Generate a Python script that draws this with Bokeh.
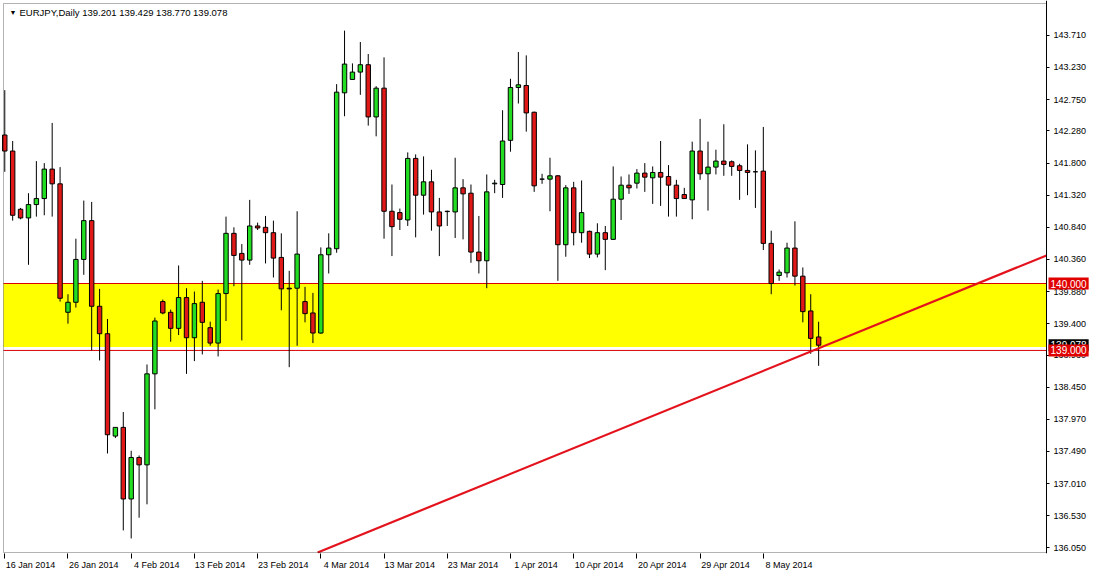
import numpy as np
from bokeh.plotting import figure
from bokeh.models import (Range1d, FixedTicker, PrintfTickFormatter, BoxAnnotation,
                          Label, ColumnDataSource, LinearAxis)
from bokeh.embed import file_html
from bokeh.resources import INLINE

symbol = "EURJPY"
timeframe = "Daily"

opens = [142.22, 141.98, 141.11, 140.98, 141.18, 141.27, 141.71, 141.49, 139.57, 139.72,
         140.36, 140.94, 139.66, 139.25, 137.72, 137.85, 136.78, 137.40, 137.29, 138.65,
         139.73, 139.57, 139.33, 139.79, 139.19, 139.72, 139.34, 139.11, 139.85, 140.75,
         140.45, 140.35, 140.86, 140.84, 140.76, 140.39, 139.93, 139.93, 139.73, 139.56,
         139.26, 140.43, 140.52, 142.85, 143.05, 143.16, 143.27, 142.49, 142.92, 141.08,
         141.06, 140.95, 141.87, 141.32, 141.52, 141.07, 141.08, 141.07, 141.43, 141.35,
         140.47, 140.34, 141.49, 141.48, 142.14, 142.93, 142.96, 142.56, 141.56, 141.56,
         141.61, 140.58, 141.43, 140.76, 140.78, 140.44, 140.76, 140.66, 141.26, 141.47,
         141.50, 141.65, 141.58, 141.66, 141.60, 141.47, 141.33, 141.25, 141.98, 141.64,
         141.74, 141.83, 141.82, 141.76, 141.69, 141.67, 141.68, 140.60, 140.12, 140.16,
         140.53, 140.11, 139.59, 139.201]
highs = [142.89, 142.13, 141.13, 141.35, 141.83, 141.80, 142.40, 141.74, 139.84, 140.67,
         141.24, 141.22, 139.92, 139.47, 137.85, 138.08, 137.50, 137.43, 138.79, 139.49,
         139.76, 139.61, 140.27, 139.93, 139.88, 140.04, 139.43, 139.91, 141.00, 140.84,
         140.59, 141.25, 140.91, 141.01, 140.94, 140.75, 140.19, 141.08, 139.95, 139.86,
         140.54, 140.75, 142.98, 143.78, 143.29, 143.61, 143.43, 142.95, 143.38, 141.48,
         141.12, 141.96, 141.93, 141.90, 141.70, 141.28, 141.09, 141.88, 141.56, 141.48,
         141.01, 141.63, 141.55, 142.59, 143.06, 143.46, 143.41, 142.57, 141.64, 141.88,
         141.62, 141.47, 141.52, 141.54, 140.79, 140.90, 140.86, 141.75, 141.60, 141.63,
         141.71, 141.80, 141.75, 142.13, 141.77, 141.55, 141.43, 142.12, 142.46, 142.12,
         142.00, 142.38, 141.84, 141.79, 142.08, 141.99, 142.34, 140.79, 140.21, 140.61,
         140.93, 140.24, 139.84, 139.429]
lows = [141.67, 140.94, 140.96, 140.28, 141.00, 141.02, 141.00, 139.73, 139.40, 139.64,
        140.13, 139.00, 138.85, 137.46, 137.69, 136.31, 136.19, 136.50, 136.70, 138.12,
        139.54, 139.13, 139.23, 138.65, 138.84, 138.94, 139.07, 138.91, 139.44, 139.96,
        139.15, 140.28, 140.80, 140.30, 140.09, 139.60, 138.75, 139.07, 139.42, 139.11,
        139.25, 140.15, 140.46, 142.50, 143.05, 142.82, 142.36, 142.20, 140.67, 140.41,
        140.80, 140.86, 140.69, 141.03, 140.79, 140.41, 140.86, 140.68, 140.66, 140.31,
        140.15, 139.93, 141.35, 141.28, 141.97, 142.69, 142.27, 141.37, 141.49, 141.08,
        140.04, 140.40, 140.57, 140.61, 140.38, 140.39, 140.20, 140.65, 140.95, 141.34,
        141.42, 141.37, 141.19, 141.16, 141.00, 141.00, 141.27, 140.96, 141.55, 141.09,
        141.63, 141.61, 141.61, 141.25, 141.32, 141.13, 140.50, 139.84, 140.04, 140.09,
        139.97, 139.42, 138.95, 138.770]
closes = [141.98, 141.02, 140.98, 141.18, 141.27, 141.71, 141.49, 139.78, 139.72, 140.36,
          140.94, 139.66, 139.25, 137.74, 137.85, 136.78, 137.40, 137.29, 138.65, 139.44,
          139.56, 139.33, 139.79, 139.19, 139.70, 139.42, 139.11, 139.85, 140.75, 140.42,
          140.35, 140.86, 140.83, 140.76, 140.38, 139.92, 139.92, 140.44, 139.55, 139.26,
          140.43, 140.53, 142.86, 143.28, 143.16, 143.27, 142.49, 142.92, 141.08, 140.85,
          140.96, 141.87, 141.32, 141.52, 141.07, 140.86, 141.075, 141.43, 141.34, 140.47,
          140.34, 141.37, 141.50, 142.13, 142.93, 142.97, 142.55, 141.46, 141.56, 141.61,
          140.58, 141.43, 140.76, 141.06, 140.44, 140.76, 140.66, 141.26, 141.47, 141.43,
          141.65, 141.59, 141.66, 141.59, 141.47, 141.27, 141.27, 141.98, 141.64, 141.74,
          141.83, 141.78, 141.75, 141.69, 141.66, 141.67, 140.60, 140.00, 140.17, 140.53,
          140.11, 139.58, 139.18, 139.078]

date_labels = ["16 Jan 2014", "26 Jan 2014", "4 Feb 2014", "13 Feb 2014", "23 Feb 2014",
               "4 Mar 2014", "13 Mar 2014", "23 Mar 2014", "1 Apr 2014", "10 Apr 2014",
               "20 Apr 2014", "29 Apr 2014", "8 May 2014"]
date_label_bars = [0, 8, 16, 24, 32, 40, 48, 56, 64, 72, 80, 88, 96]

price_ticks = [143.71, 143.23, 142.75, 142.28, 141.80, 141.32, 140.84, 140.36, 139.88,
               139.40, 138.93, 138.45, 137.97, 137.49, 137.01, 136.53, 136.05]

zone_top = 140.0
zone_bottom = 139.05
level_lines = [140.0, 139.0]
trend_x = [39.6, 131.84]
trend_y = [135.98, 140.42]

# chart box (bars / prices) and the full frame that also holds the price scale
BOX_LEFT, BOX_RIGHT = -0.16, 131.84
BOX_BOTTOM, BOX_TOP = 135.98, 144.185
X_START, X_END = -0.54, 137.28
Y_START, Y_END = 135.965, 144.23

FONT = "Liberation Sans"
UP_COLOR = "#22DD22"
DOWN_COLOR = "#E01818"
LEVEL_COLOR = "#D80000"
TAG_RED = "#E00000"

n = len(opens)
idx = np.arange(n)
o = np.array(opens); h = np.array(highs); l = np.array(lows); c = np.array(closes)
src = ColumnDataSource(dict(
    x=idx, o=o, h=h, l=l, c=c,
    top=np.maximum(o, c), bottom=np.minimum(o, c),
    color=[UP_COLOR if cc > oo else DOWN_COLOR for oo, cc in zip(o, c)],
))

p = figure(width=1089, height=572, output_backend="svg", toolbar_location=None,
           x_range=Range1d(X_START, X_END), y_range=Range1d(Y_START, Y_END),
           y_axis_location=None, x_axis_location="below",
           min_border_left=0, min_border_top=0, min_border_right=0, min_border_bottom=0,
           background_fill_color="white", border_fill_color="white")
p.outline_line_color = None
p.xgrid.visible = False
p.ygrid.visible = False

# support / resistance zone
p.add_layout(BoxAnnotation(left=BOX_LEFT, right=BOX_RIGHT, top=zone_top, bottom=zone_bottom,
                           fill_color="#FFFF00", fill_alpha=1.0, line_alpha=0,
                           level="underlay"))
p.segment(x0=[BOX_LEFT] * len(level_lines), x1=[BOX_RIGHT] * len(level_lines),
          y0=level_lines, y1=level_lines, line_color=LEVEL_COLOR, line_width=1)

# candles
p.segment(x0="x", y0="l", x1="x", y1="h", source=src, line_color="black", line_width=1)
p.vbar(x="x", width=0.56, top="top", bottom="bottom", fill_color="color",
       line_color="black", line_width=1, source=src)

# trend line
p.line(trend_x, trend_y, line_color="#E3121C", line_width=2.2)

# chart box border
p.add_layout(BoxAnnotation(left=BOX_LEFT, right=BOX_RIGHT, top=BOX_TOP, bottom=BOX_BOTTOM,
                           fill_alpha=0, line_color="black", line_width=1, level="overlay"))

# x axis: tick marks at bar positions (minor), labels to their right (major)
LABEL_SHIFT = 3.25
xt = FixedTicker(ticks=[b + LABEL_SHIFT for b in date_label_bars], minor_ticks=date_label_bars)
xa = p.xaxis[0]
xa.ticker = xt
xa.major_label_overrides = {b + LABEL_SHIFT: lab for b, lab in zip(date_label_bars, date_labels)}
xa.major_tick_line_color = None
xa.major_tick_out = 0
xa.major_tick_in = 0
xa.minor_tick_line_color = "black"
xa.minor_tick_out = 5
xa.minor_tick_in = 0
xa.major_label_standoff = 1
xa.axis_line_color = None
xa.axis_label = None
xa.axis_label_standoff = 0
xa.major_label_text_font = FONT
xa.major_label_text_font_size = "9px"
xa.major_label_text_color = "black"

# price scale pinned to the right edge of the chart box
ya = LinearAxis(fixed_location=BOX_RIGHT, ticker=FixedTicker(ticks=price_ticks, minor_ticks=[]),
                formatter=PrintfTickFormatter(format="%.3f"))
ya.major_tick_out = 3
ya.major_tick_in = 0
ya.minor_tick_line_color = None
ya.major_label_standoff = 4
ya.axis_line_color = "black"
ya.major_label_text_font = FONT
ya.major_label_text_font_size = "9px"
ya.major_label_text_color = "black"
p.add_layout(ya, "right")

# header
last = n - 1
header = "%s,%s  %.3f %.3f %.3f %.3f" % (symbol, timeframe, opens[last], highs[last],
                                          lows[last], closes[last])
p.add_layout(Label(x=BOX_LEFT, y=BOX_TOP, x_offset=6, y_offset=-9, text="\u25BC",
                   text_font_size="7px", text_color="black", text_baseline="middle",
                   text_align="left"))
p.add_layout(Label(x=BOX_LEFT, y=BOX_TOP, x_offset=16, y_offset=-9, text=header,
                   text_font=FONT, text_font_size="9.5px", text_color="black",
                   text_baseline="middle", text_align="left"))

# price tags on the price scale
tags = [(closes[last], "black"), (level_lines[1], TAG_RED), (level_lines[0], TAG_RED)]
for price, bg in tags:
    p.add_layout(Label(x=BOX_RIGHT, y=price, x_offset=2, text="%.3f" % price,
                       text_font=FONT, text_font_size="10px", text_color="white",
                       text_baseline="middle", text_align="left",
                       background_fill_color=bg, padding=2))

open("out.html", "w").write(file_html(p, INLINE))
